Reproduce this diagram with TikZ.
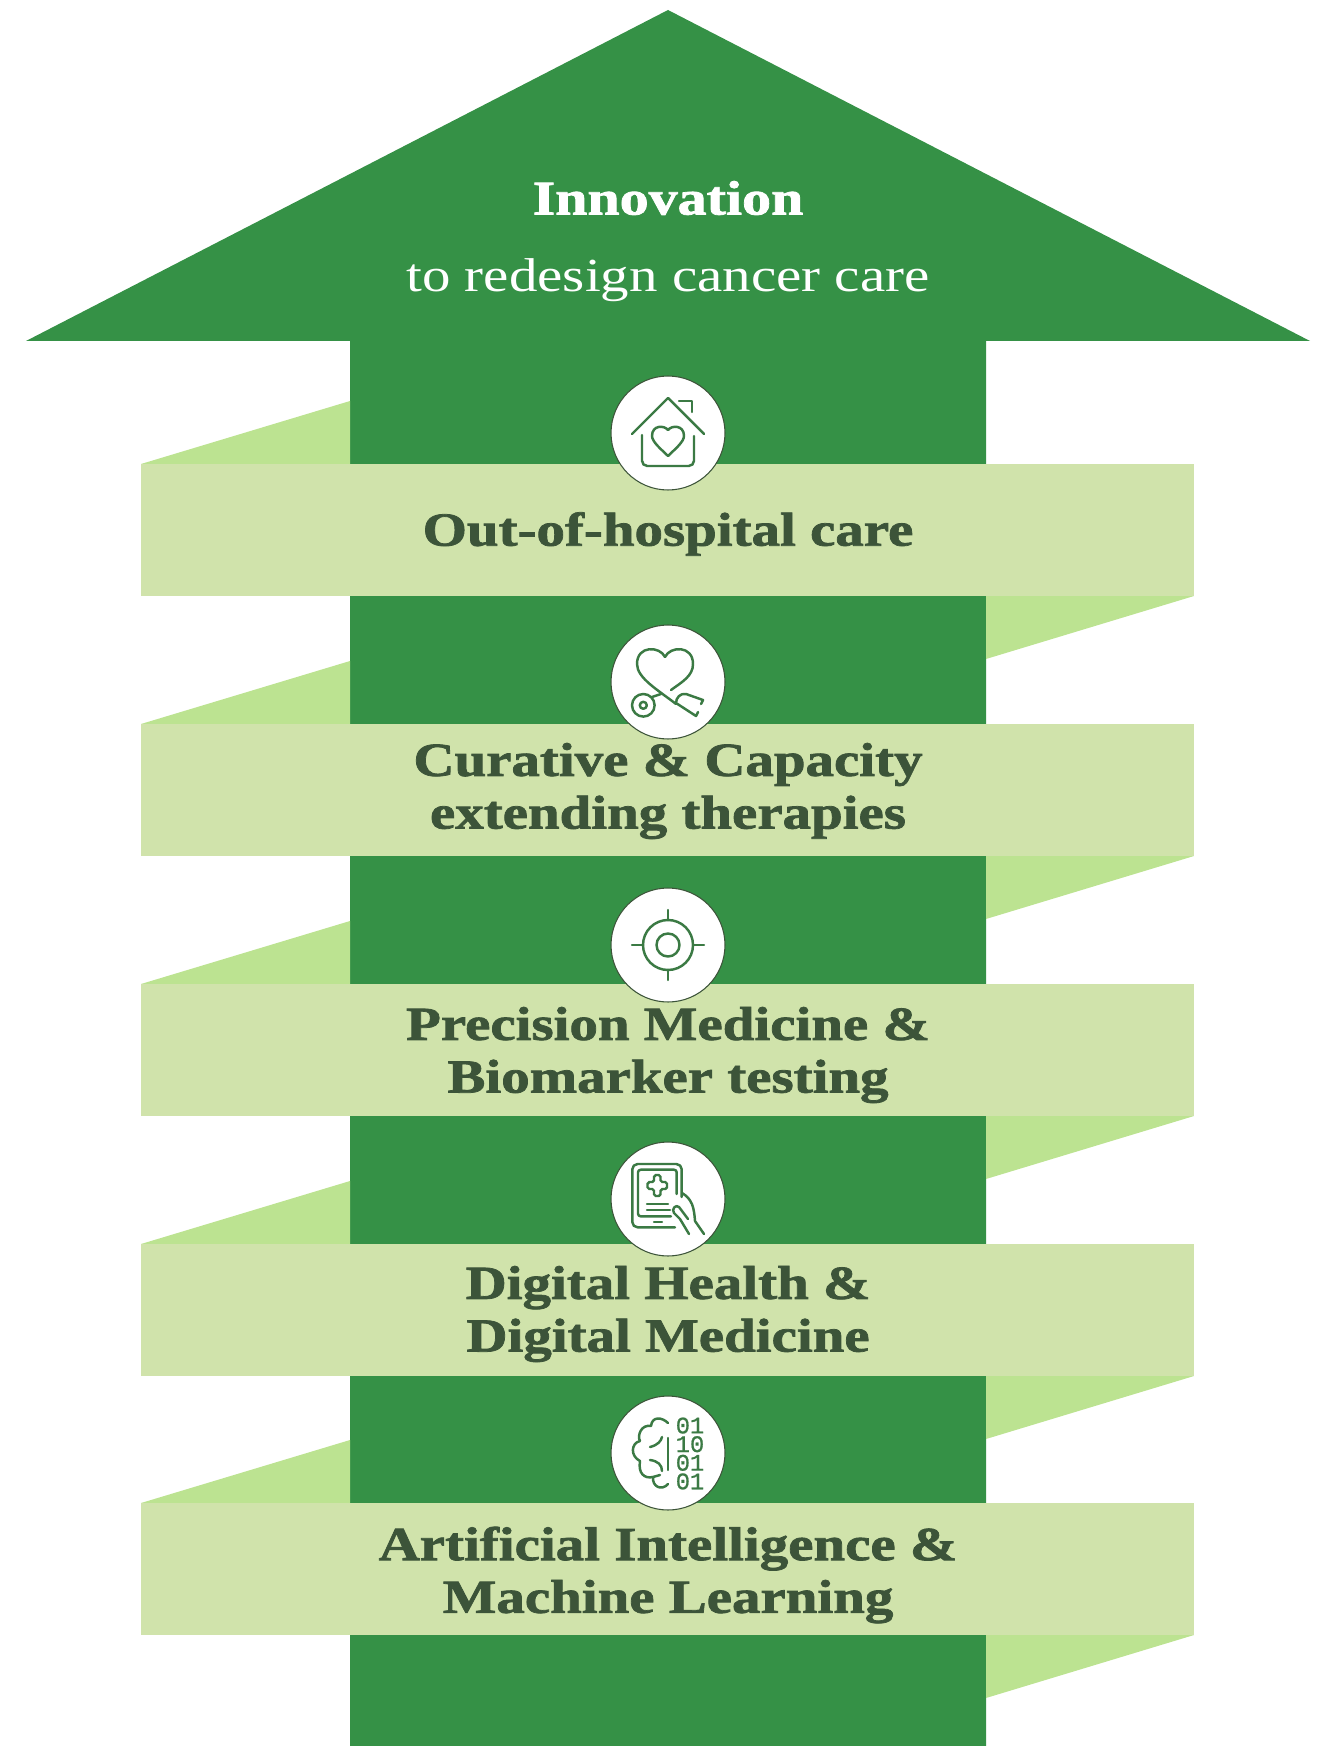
\documentclass[tikz,border=0pt]{standalone}
\usepackage{fontspec}
\setmainfont{Liberation Serif}[FakeStretch=1.2,BoldFeatures={FakeStretch=1.2,FakeBold=1.6}]
\setmonofont{Liberation Mono}[FakeBold=0.8]
\definecolor{arrowgreen}{HTML}{359146}
\definecolor{bandgreen}{HTML}{D0E3AB}
\definecolor{foldgreen}{HTML}{BCE391}
\definecolor{labelgreen}{HTML}{3C5439}
\definecolor{icongreen}{HTML}{3B7A44}
\tikzset{
	bandlabel/.style={font=\fontsize{27}{30}\selectfont\bfseries,text=labelgreen,align=center,inner sep=0pt},
	iconcircle/.style={circle,draw=labelgreen,line width=0.6pt,fill=white,minimum size=2.28cm,inner sep=0pt},
	iconline/.style={draw=icongreen,line width=1.4pt,line cap=round,line join=round},
	bits/.style={font=\fontsize{13.5}{10.6}\selectfont\ttfamily,text=icongreen,align=center,inner sep=0pt}
}
\begin{document}
\begin{tikzpicture}[x=0.02cm,y=-0.02cm]
	\useasboundingbox (0,0) rectangle (1326,1746);
	\fill[arrowgreen] (668,10)--(1310,341)--(986,341)--(986,1746)--(350,1746)--(350,341)--(26,341)--cycle;
	\foreach \y in {464,724,984,1244,1503}{
		\fill[foldgreen] (141,\y)--(350,\y-63)--(350,\y)--cycle;
		\fill[foldgreen] (986,\y+132)--(1194,\y+132)--(986,\y+195)--cycle;
		\fill[bandgreen] (141,\y) rectangle (1194,\y+132);
	}
	\node[text=white,font=\fontsize{27.5}{30}\selectfont\bfseries,inner sep=0pt] (innovation) at (668,198) {Innovation};
	\node[text=white,font=\fontsize{27}{30}\selectfont,inner sep=0pt] (redesign) at (668,280) {to redesign cancer care};
	\node[iconcircle] (homeicon) at (668,433) {};
	\node[iconcircle] (hearticon) at (668,682) {};
	\node[iconcircle] (targeticon) at (668,945) {};
	\node[iconcircle] (tableticon) at (668,1199) {};
	\node[iconcircle] (brainicon) at (668,1453) {};
	\node[bandlabel] (outofhospital) at (668,534) {Out-of-hospital care};
	\node[bandlabel] (curative) at (668,791) {Curative \& Capacity\\extending therapies};
	\node[bandlabel] (precision) at (668,1055) {Precision Medicine \&\\Biomarker testing};
	\node[bandlabel] (digital) at (668,1314) {Digital Health \&\\Digital Medicine};
	\node[bandlabel] (artificial) at (668,1575) {Artificial Intelligence \&\\Machine Learning};
	\begin{scope}[shift={(homeicon.center)}]
		\draw[iconline] (-36,1)--(0,-35)--(36,1);
		\draw[iconline,rounded corners=3pt] (-26,2)--(-26,33)--(26,33)--(26,3);
		\draw[iconline] (11,-32)--(24,-32)--(24,-21);
		\draw[iconline] (0,-3) .. controls (4,-8) and (16,-8) .. (16,3) .. controls (16,9) and (6,17) .. (0,23) .. controls (-6,17) and (-16,9) .. (-16,3) .. controls (-16,-8) and (-4,-8) .. (0,-3);
	\end{scope}
	\begin{scope}[shift={(hearticon.center)}]
		\draw[iconline] (-3,-25) .. controls (-8,-36) and (-31,-37) .. (-31,-18) .. controls (-31,-4) and (-10,8) .. (8,22);
		\draw[iconline] (-3,-25) .. controls (2,-36) and (25,-37) .. (25,-18) .. controls (25,-6) and (14,0) .. (3,8);
		\draw[iconline] (-24.7,23.3) circle (11.3);
		\draw[iconline] (-24.7,23.3) circle (3.5);
		\draw[iconline] (-16,15)--(-7,12);
		\draw[iconline] (33,22)--(35,18)--(18,12) .. controls (12,11) and (8,16) .. (8,21)--(28,34)--(30,30);
	\end{scope}
	\begin{scope}[shift={(targeticon.center)}]
		\draw[iconline] (0,0) circle (25);
		\draw[iconline] (0,0) circle (11.5);
		\draw[iconline] (0,-35)--(0,-25);
		\draw[iconline] (0,25)--(0,35);
		\draw[iconline] (-36,0)--(-25,0);
		\draw[iconline] (25,0)--(36,0);
	\end{scope}
	\begin{scope}[shift={(tableticon.center)}]
		\draw[iconline,rounded corners=3pt] (13.7,-2)--(13.7,-35)--(-35.7,-35)--(-35.7,28.3)--(7,28.3);
		\draw[iconline,rounded corners=1.5pt] (8.7,-5)--(8.7,-29.3)--(-30,-29.3)--(-30,17.3)--(3,17.3);
		\draw[iconline,rounded corners=1pt] (-14,-24)--(-7.5,-24)--(-7.5,-17)--(-1,-17)--(-1,-10)--(-7.5,-10)--(-7.5,-3)--(-14,-3)--(-14,-10)--(-20.5,-10)--(-20.5,-17)--(-14,-17)--cycle;
		\draw[iconline] (-21,5)--(0,5);
		\draw[iconline] (-21,11)--(2,11);
		\draw[iconline] (-14,23)--(-6,23);
		\draw[iconline] (14,-6) .. controls (24,0) and (26,8) .. (27,22)--(36,35);
		\draw[iconline] (21,35)--(12,20)--(6,14) .. controls (3,10) and (8,5) .. (11,8)--(20,20);
	\end{scope}
	\begin{scope}[shift={(brainicon.center)}]
		\draw[iconline] (0,-15)--(0,17);
		\draw[iconline] (0,-30) .. controls (-6,-36) and (-16,-37) .. (-17,-27) .. controls (-27,-29) and (-31,-17) .. (-28,-12) .. controls (-37,-10) and (-38,3) .. (-28,8) .. controls (-30,20) and (-24,26) .. (-15,24) .. controls (-16,34) and (-6,38) .. (0,31);
		\draw[iconline] (-18,-6) .. controls (-10,-8) and (-7,-12) .. (-6,-16);
		\draw[iconline] (-18,7) .. controls (-10,8) and (-6,12) .. (-6,18);
		\draw[iconline] (-15,24)--(-8,22);
		\node[bits] (bitrows) at (22,0.5) {01\\10\\01\\01};
	\end{scope}
\end{tikzpicture}
\end{document}
